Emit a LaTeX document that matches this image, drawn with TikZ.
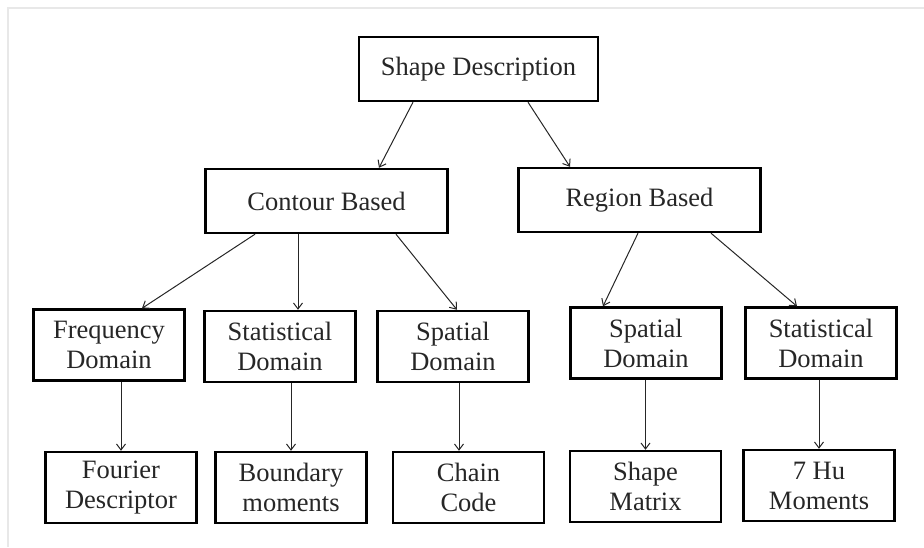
\documentclass[tikz,border=0pt]{standalone}
\usepackage{fontspec}
\setmainfont{Liberation Serif}
\usetikzlibrary{arrows.meta}

\begin{document}
\begin{tikzpicture}[x=1pt,y=1pt]
    \tikzstyle{every node}+=[inner sep=0pt]
    \tikzstyle{block}=[draw=black,line width=2.4pt,align=center,text=black!85,
        font=\fontsize{26.5}{30}\selectfont]
    \tikzstyle{wide}=[block,minimum width=242pt,minimum height=64pt]
    \tikzstyle{small}=[block,minimum width=151pt,minimum height=71pt]
    \tikzstyle{link}=[black!85,line width=1pt,-{Straight Barb[length=6pt,width=9pt]}]
    \useasboundingbox (0,0) rectangle (924,-547);
    % faint frame of the scan
    \draw [black!9,line width=2pt] (924,-8) -- (8,-8) -- (8,-547);
    % top level
    \node [wide,minimum width=239pt] (sd) at (478.5,-69) {Shape Description};
    \node [wide] (cb) at (326.5,-201) {Contour Based};
    \node [wide] (rb) at (639.5,-200) {Region Based};
    % domains
    \node [small] (fd) at (109,-345) {Frequency\\Domain};
    \node [small] (sdl) at (280,-346.5) {Statistical\\Domain};
    \node [small] (spl) at (453,-346.5) {Spatial\\Domain};
    \node [small] (spr) at (646,-343) {Spatial\\Domain};
    \node [small] (sdr) at (821,-343) {Statistical\\Domain};
    % descriptors
    \node [small] (fou) at (121,-487.5) {Fourier\\Descriptor};
    \node [small] (bm) at (291,-487.5) {Boundary\\moments};
    \node [small] (cc) at (468.5,-487.5) {Chain\\Code};
    \node [small] (sm) at (645.5,-486.5) {Shape\\Matrix};
    \node [small] (hu) at (819,-485.5) {7 Hu\\Moments};
    % links
    \draw [link] ([xshift=-65.5pt]sd.south) -- ([xshift=52.5pt]cb.north);
    \draw [link] ([xshift=49.5pt]sd.south) -- ([xshift=-69.5pt]rb.north);
    \draw [link] ([xshift=-71.5pt]cb.south) -- ([xshift=33pt]fd.north);
    \draw [link] ([xshift=-28.5pt]cb.south) -- ([xshift=18pt]sdl.north);
    \draw [link] ([xshift=69.5pt]cb.south) -- ([xshift=4pt]spl.north);
    \draw [link] ([xshift=-1.5pt]rb.south) -- ([xshift=-43pt]spr.north);
    \draw [link] ([xshift=71.5pt]rb.south) -- ([xshift=-24pt]sdr.north);
    \draw [link] (fou.north |- fd.south) -- (fou.north);
    \draw [link] (bm.north |- sdl.south) -- (bm.north);
    \draw [link] ([xshift=-9.5pt]cc.north |- spl.south) -- ([xshift=-9.5pt]cc.north);
    \draw [link] (sm.north |- spr.south) -- (sm.north);
    \draw [link] (hu.north |- sdr.south) -- (hu.north);
\end{tikzpicture}
\end{document}
